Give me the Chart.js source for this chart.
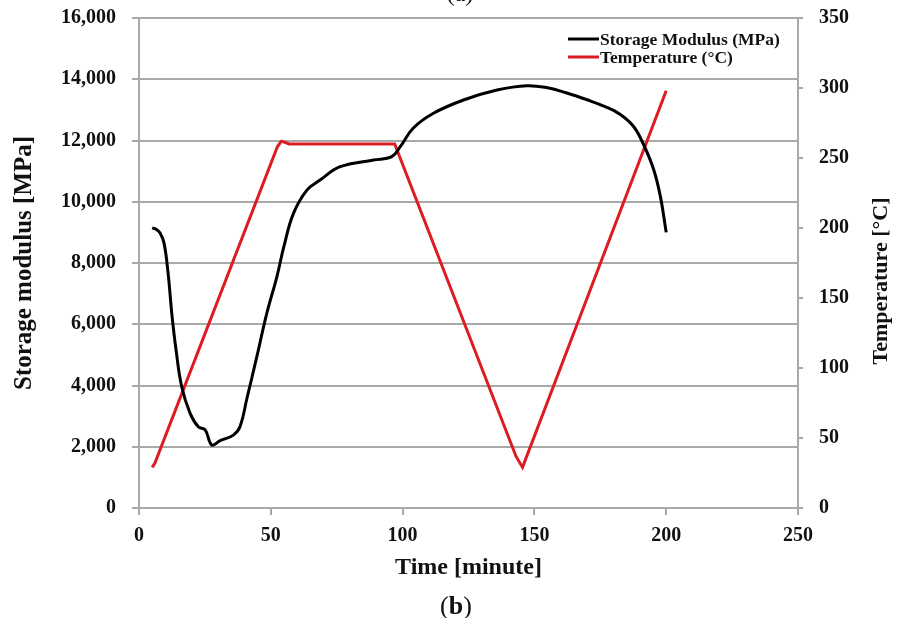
<!DOCTYPE html>
<html>
<head>
<meta charset="utf-8">
<script src="https://cdn.jsdelivr.net/npm/chart.js@4/dist/chart.umd.min.js"></script>
<style>
    body { margin: 0; background: #fff; }
</style>
</head>
<body>
<canvas id="dmaChart" width="900" height="618"></canvas>
<script>
// storage modulus (black curve)
const modTime = [5, 6.5, 8, 9.5, 11, 12.5, 14, 16.2, 19.4, 22.5, 25.1, 27.6, 30.8, 35.8, 38.3, 41, 44.7, 48.5, 52.3, 55, 58.6, 63.7, 68.7, 76.3, 89, 95.9, 99.1, 104, 111.7, 123.1, 135.8, 147.2, 155, 162, 170, 177, 182.6, 187.7, 191.5, 195.3, 197.8, 200];
const modValues = [9150, 9100, 8980, 8650, 7700, 6300, 5200, 3960, 3090, 2650, 2550, 2060, 2200, 2380, 2650, 3600, 4940, 6360, 7550, 8550, 9620, 10380, 10710, 11145, 11363, 11472, 11797, 12400, 12888, 13322, 13649, 13790, 13720, 13560, 13330, 13100, 12850, 12450, 11853, 11037, 10166, 9000];

// temperature (red line)
const tempTime = [5, 6, 52.5, 54, 57, 97, 143, 145.5, 200];
const tempValues = [29, 32, 258, 262, 260, 260, 37, 29, 298];

const timeTicks = [0, 50, 100, 150, 200, 250];

let ctx = document.getElementById('dmaChart').getContext('2d');

const tickFont = { family: 'Liberation Serif', size: 20, weight: 'bold' };
const gridGray = '#a9a9a9';

// legend inside the plot, top right, plus the right-hand title and panel letters
const extras = {
    id: 'extras',
    afterDraw(chart) {
        const c = chart.ctx;
        c.save();
        c.font = 'bold 17.5px "Liberation Serif"';
        c.textBaseline = 'middle';
        c.textAlign = 'left';
        chart.data.datasets.forEach((ds, i) => {
            const y = 39 + i * 18;
            c.strokeStyle = ds.borderColor;
            c.lineWidth = 3;
            c.beginPath();
            c.moveTo(568, y);
            c.lineTo(599, y);
            c.stroke();
            c.fillStyle = '#111';
            c.fillText(ds.label, 600, y + 1);
        });

        c.translate(881, 281);
        c.rotate(-Math.PI / 2);
        c.textAlign = 'center';
        c.font = 'bold 22px "Liberation Serif"';
        c.fillText('Temperature [°C]', 0, 0);
        c.restore();

        c.save();
        c.fillStyle = '#111';
        c.textBaseline = 'alphabetic';
        c.textAlign = 'center';
        c.font = '24px "Liberation Serif"';
        c.fillText('(a)', 460, 1);
        // (b) with bold letter
        const cx = 456, by = 614;
        c.textAlign = 'left';
        c.font = '26px "Liberation Serif"';
        const wp = c.measureText('(').width;
        c.font = 'bold 26px "Liberation Serif"';
        const wb = c.measureText('b').width;
        let x = cx - (wp * 2 + wb) / 2;
        c.font = '26px "Liberation Serif"';
        c.fillText('(', x, by);
        c.font = 'bold 26px "Liberation Serif"';
        c.fillText('b', x + wp, by);
        c.font = '26px "Liberation Serif"';
        c.fillText(')', x + wp + wb, by);
        c.restore();
    }
};

// fixed axis sizes so the plot area sits where the original one does
function fixY(width) {
    return (scale) => {
        scale.width = width;
        scale.paddingTop = 0;
        scale.paddingBottom = 0;
    };
}

let dmaChart = new Chart(ctx, {
    type: 'line',
    data: {
        datasets: [{
            label: 'Storage Modulus (MPa)',
            data: modTime.map((t, i) => ({ x: t, y: modValues[i] })),
            borderColor: '#000000',
            borderWidth: 3,
            pointRadius: 0,
            tension: 0.4,
            yAxisID: 'y',
        }, {
            label: 'Temperature (°C)',
            data: tempTime.map((t, i) => ({ x: t, y: tempValues[i] })),
            borderColor: '#dc1c22',
            borderWidth: 3,
            pointRadius: 0,
            tension: 0,
            yAxisID: 'y1',
        }]
    },
    options: {
        responsive: false,
        animation: false,
        layout: {
            padding: { top: 18, left: 0, right: 0, bottom: 0 }
        },
        plugins: {
            legend: { display: false },
            tooltip: { enabled: false },
        },
        scales: {
            x: {
                type: 'linear',
                min: 0,
                max: 250,
                afterBuildTicks: (scale) => {
                    scale.ticks = timeTicks.map(v => ({ value: v }));
                },
                afterFit: (scale) => {
                    scale.height = 110;
                    scale.paddingLeft = 0;
                    scale.paddingRight = 0;
                },
                ticks: {
                    color: '#111',
                    font: tickFont,
                    padding: 9,
                    maxRotation: 0,
                },
                grid: {
                    drawOnChartArea: false,
                    color: gridGray,
                    lineWidth: 2,
                    tickLength: 7,
                },
                border: { color: gridGray, width: 2 },
                title: {
                    display: true,
                    text: 'Time [minute]',
                    color: '#111',
                    font: { family: 'Liberation Serif', size: 24, weight: 'bold' },
                    padding: { top: 0, bottom: 36 },
                }
            },
            y: {
                position: 'left',
                min: 0,
                max: 16000,
                afterFit: fixY(139),
                ticks: {
                    stepSize: 2000,
                    color: '#111',
                    font: tickFont,
                    padding: 16,
                    callback: (v) => v.toLocaleString('en-US'),
                },
                grid: {
                    color: gridGray,
                    lineWidth: 2,
                    tickLength: 7,
                },
                border: { color: gridGray, width: 2 },
                title: {
                    display: true,
                    text: 'Storage modulus [MPa]',
                    color: '#111',
                    font: { family: 'Liberation Serif', size: 25, weight: 'bold' },
                    padding: { top: 10, bottom: 0 },
                }
            },
            y1: {
                position: 'right',
                min: 0,
                max: 350,
                afterFit: fixY(102),
                ticks: {
                    stepSize: 50,
                    color: '#111',
                    font: tickFont,
                    padding: 16,
                },
                grid: {
                    drawOnChartArea: false,
                    color: gridGray,
                    lineWidth: 2,
                    tickLength: 5,
                },
                border: { color: gridGray, width: 2 },
            }
        }
    },
    plugins: [extras]
});
</script>
</body>
</html>
